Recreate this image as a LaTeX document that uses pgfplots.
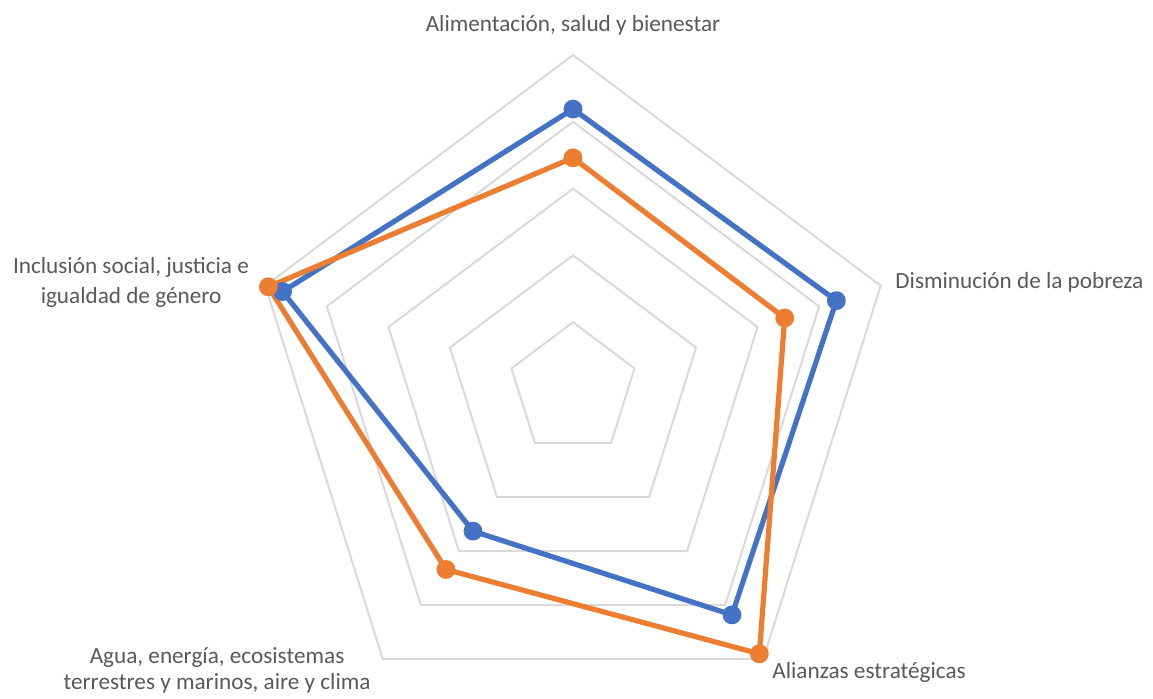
\documentclass[border=0pt]{standalone}
\usepackage{pgfplots}
\pgfplotsset{compat=1.18}
\usepackage{fontspec}
\setmainfont{Carlito}
\definecolor{sblue}{HTML}{4472C4}
\definecolor{sorange}{HTML}{ED7D31}
\definecolor{ring}{HTML}{D9D9D9}
\definecolor{txt}{HTML}{595959}
\begin{document}
\begin{tikzpicture}
\begin{axis}[
  x=32.35pt, y=33.4pt,
  xmin=-8.856, xmax=8.964, ymin=-4.626, ymax=5.823,
  hide axis, clip=false,
  data cs=polar,
]
\foreach \r in {1,2,3,4,5}{
  \edef\tmp{\noexpand\addplot[ring, line width=1pt, mark=none] coordinates {(90,\r) (18,\r) (-54,\r) (-126,\r) (162,\r)} -- cycle;}
  \tmp
}
\addplot[sblue, line width=2.6pt, line join=round, mark=*, mark size=3.4pt, mark options={solid}]
  coordinates {(90,4.19) (18,4.28) (-54,4.18) (-126,2.63) (162,4.72)} -- cycle;
\addplot[sorange, line width=2.6pt, line join=round, mark=*, mark size=3.4pt, mark options={solid}]
  coordinates {(90,3.46) (18,3.44) (-54,4.90) (-126,3.34) (162,4.95)} -- cycle;
\end{axis}
\begin{axis}[
  name=labs,
  x=32.35pt, y=33.4pt,
  xmin=-8.856, xmax=8.964, ymin=-4.626, ymax=5.823,
  hide axis, clip=false,
]
\begin{scope}[every node/.style={font=\fontsize{11.6pt}{13pt}\selectfont, text=txt, inner sep=0pt}]
\node[anchor=base] at (axis cs:0,5.344) {Alimentación, salud y bienestar};
\node[anchor=base west] at (axis cs:4.977,1.497) {Disminución de la pobreza};
\node[anchor=base] at (axis cs:-6.831,1.722) {Inclusión social, justicia e};
\node[anchor=base] at (axis cs:-6.831,1.287) {igualdad de género};
\node[anchor=base] at (axis cs:-5.502,-4.102) {Agua, energía, ecosistemas};
\node[anchor=base] at (axis cs:-5.502,-4.506) {terrestres y marinos, aire y clima};
\node[anchor=base west] at (axis cs:3.076,-4.341) {Alianzas estratégicas};
\end{scope}
\end{axis}
\pgfresetboundingbox
\path[use as bounding box] (labs.south west) rectangle (labs.north east);
\end{tikzpicture}
\end{document}
